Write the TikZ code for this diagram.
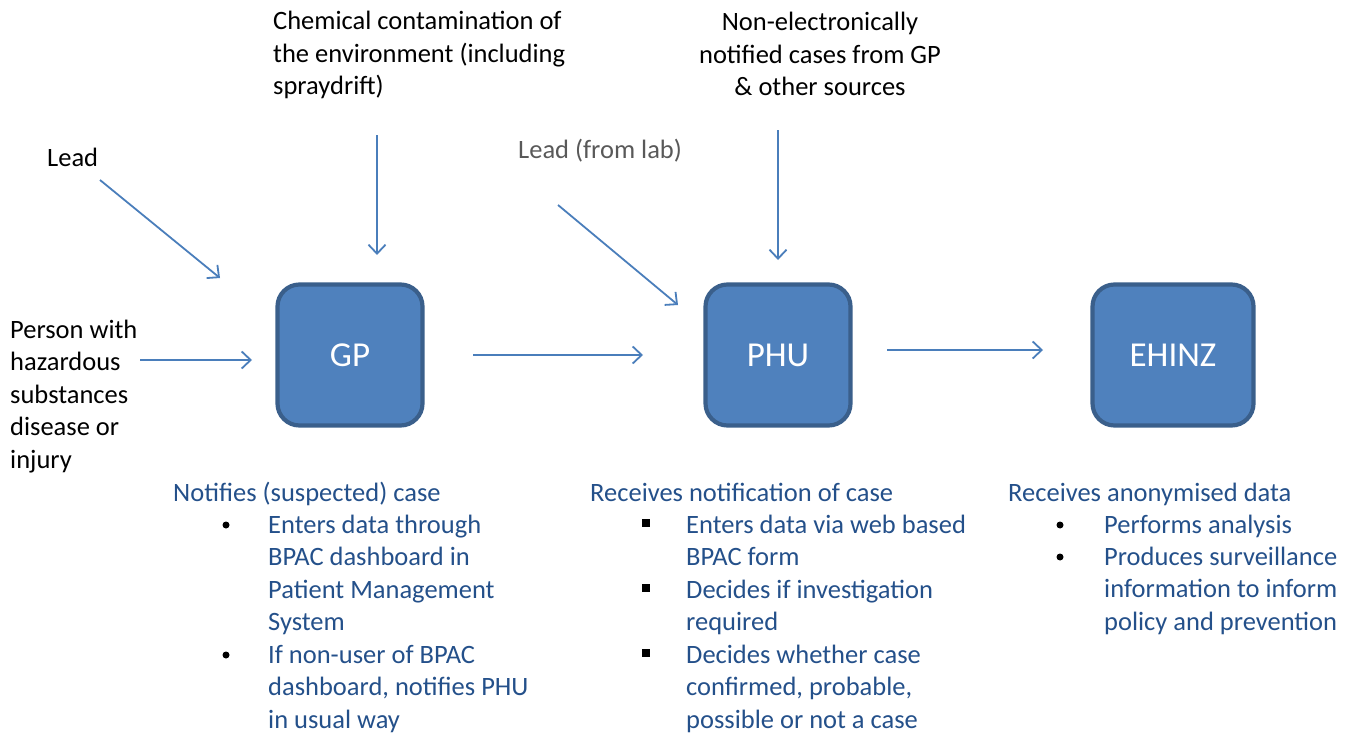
\documentclass[tikz,border=0pt]{standalone}
\usepackage{fontspec}
\setmainfont{Carlito}
\usetikzlibrary{arrows.meta}
\definecolor{boxfill}{HTML}{4F81BD}
\definecolor{boxline}{HTML}{3A5F8B}
\definecolor{arr}{HTML}{4A7EBB}
\definecolor{navy}{HTML}{24508A}
\definecolor{greytxt}{HTML}{595959}
\begin{document}
\begin{tikzpicture}[x=1pt,y=-1pt,
  box/.style={draw=boxline, line width=4.2pt, fill=boxfill, rounded corners=22pt,
    minimum height=141pt, text=white, font=\fontsize{35}{40}\selectfont},
  flow/.style={draw=arr, line width=1.8pt, -{Straight Barb[length=9pt,width=17pt]}},
  txt/.style={font=\fontsize{26.5}{32.5}\selectfont, inner sep=0pt, align=left},
  ntxt/.style={txt, text=navy},
  dotb/.style={circle, fill=black, inner sep=0pt, minimum size=7pt},
  sqb/.style={rectangle, fill=black, inner sep=0pt, minimum size=7.5pt},
]
\useasboundingbox (0,0) rectangle (1348,733);

\node[box, minimum width=145pt] (gp) at (350,355) {GP};
\node[box, minimum width=145pt] (phu) at (778,355) {PHU};
\node[box, minimum width=161pt] (ehinz) at (1173,355) {EHINZ};

% input labels (anchor = baseline of the last line)
\node[txt, anchor=base west] (lead) at (47,166) {Lead};
\node[txt, anchor=base west] (person) at (10,468) {Person with\\hazardous\\substances\\disease or\\injury};
\node[txt, anchor=base west] (chem) at (273,95) {Chemical contamination of\\the environment (including\\spraydrift)};
\node[txt, anchor=base, align=center] (nonel) at (820,96) {Non-electronically\\notified cases from GP\\\& other sources};
\node[txt, anchor=base west, text=greytxt] (leadlab) at (518,158) {Lead (from lab)};

% arrow ends
\coordinate (a1s) at (100,180); \coordinate (a1e) at (220,278);
\coordinate (a2s) at (140,360); \coordinate (a2e) at (252,360);
\coordinate (a3s) at (377,135); \coordinate (a3e) at (377,255);
\coordinate (a4s) at (473,355); \coordinate (a4e) at (643,355);
\coordinate (a5s) at (558,205); \coordinate (a5e) at (678,305);
\coordinate (a6s) at (778,130); \coordinate (a6e) at (778,260);
\coordinate (a7s) at (887,350); \coordinate (a7e) at (1043,350);
\draw[flow] (a1s) -- (a1e);
\draw[flow] (a2s) -- (a2e);
\draw[flow] (a3s) -- (a3e);
\draw[flow] (a4s) -- (a4e);
\draw[flow] (a5s) -- (a5e);
\draw[flow] (a6s) -- (a6e);
\draw[flow] (a7s) -- (a7e);

% GP description
\node[ntxt, anchor=base west] (gph) at (173,501) {Notifies (suspected) case};
\node[dotb] (gpb1) at (226,525) {};
\node[ntxt, anchor=base west] (gpi1) at (268,630.5) {Enters data through\\BPAC dashboard in\\Patient Management\\System};
\node[dotb] (gpb2) at (226,655) {};
\node[ntxt, anchor=base west] (gpi2) at (268,728) {If non-user of BPAC\\dashboard, notifies PHU\\in usual way};

% PHU description
\node[ntxt, anchor=base west] (phuh) at (590,501) {Receives notification of case};
\node[sqb] (phub1) at (646,523) {};
\node[ntxt, anchor=base west] (phui1) at (686,565.5) {Enters data via web based\\BPAC form};
\node[sqb] (phub2) at (646,588) {};
\node[ntxt, anchor=base west] (phui2) at (686,630.5) {Decides if investigation\\required};
\node[sqb] (phub3) at (646,653) {};
\node[ntxt, anchor=base west] (phui3) at (686,728) {Decides whether case\\confirmed, probable,\\possible or not a case};

% EHINZ description
\node[ntxt, anchor=base west] (ehh) at (1008,501) {Receives anonymised data};
\node[dotb] (ehb1) at (1060,525) {};
\node[ntxt, anchor=base west] (ehi1) at (1104,533) {Performs analysis};
\node[dotb] (ehb2) at (1060,557) {};
\node[ntxt, anchor=base west] (ehi2) at (1104,630) {Produces surveillance\\information to inform\\policy and prevention};
\end{tikzpicture}
\end{document}
